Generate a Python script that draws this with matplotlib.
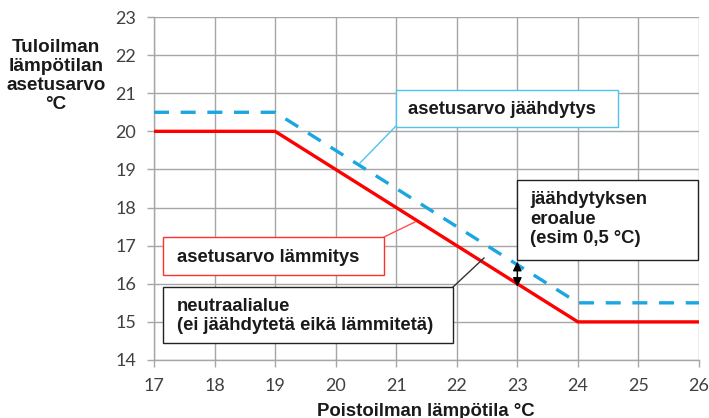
import matplotlib
matplotlib.use("Agg")
import matplotlib.pyplot as plt
from matplotlib.patches import Rectangle

# ---- data ----
x_heat = [17, 19, 24, 26]
y_heat = [20, 20, 15, 15]
x_cool = [17, 19, 24, 26]
y_cool = [20.5, 20.5, 15.5, 15.5]
x_ticks = [17, 18, 19, 20, 21, 22, 23, 24, 25, 26]
y_ticks = [14, 15, 16, 17, 18, 19, 20, 21, 22, 23]
band_x = 23
band_lo = 16
band_hi = 16.5

label_cool = "asetusarvo jäähdytys"
label_heat = "asetusarvo lämmitys"
label_neutral = "neutraalialue\n(ei jäähdytetä eikä lämmitetä)"
label_band = "jäähdytyksen\neroalue\n(esim 0,5 °C)"
ylabel = "Tuloilman\nlämpötilan\nasetusarvo\n°C"
xlabel = "Poistoilman lämpötila °C"

W, H = 709, 418
fig = plt.figure(figsize=(W / 100, H / 100), dpi=100)
ax = fig.add_axes([154 / W, 1 - 360 / H, (699 - 154) / W, (360 - 17) / H])
ax.set_xlim(17, 26)
ax.set_ylim(14, 23)
ax.set_xticks(x_ticks)
ax.set_yticks(y_ticks)
ax.grid(True, color="#A6A6A6", linewidth=1.0)
ax.set_axisbelow(True)
for s in ["top", "right"]:
    ax.spines[s].set_visible(False)
for s in ["left", "bottom"]:
    ax.spines[s].set_color("#A6A6A6")
    ax.spines[s].set_linewidth(1.0)
ax.tick_params(axis="both", colors="#A6A6A6", length=5, width=1.0,
               labelcolor="#404040", labelsize=13)
ax.tick_params(axis="x", pad=8)
ax.tick_params(axis="y", pad=8)
for lab in ax.get_xticklabels() + ax.get_yticklabels():
    lab.set_family("Lato")

ax.plot(x_heat, y_heat, color="#FF0000", linewidth=2.4, solid_capstyle="butt", zorder=3)
ax.plot(x_cool, y_cool, color="#1AA6E0", linewidth=2.4, linestyle=(0, (4.5, 3.5)),
        dash_capstyle="butt", zorder=3)

def px2d(px, py):
    return 17 + (px - 154) / ((699 - 154) / 9), 23 - (py - 17) / ((360 - 17) / 9)

tfont = dict(family="Liberation Sans", weight="bold", fontsize=13.3, color="#1A1A1A")

def box(x0, y0, x1, y1, ec, text, tx, ty, ls=1.2):
    a = px2d(x0, y1)
    b = px2d(x1, y0)
    ax.add_patch(Rectangle(a, b[0] - a[0], b[1] - a[1], facecolor="white",
                           edgecolor=ec, linewidth=1.0, zorder=5, clip_on=False))
    t = px2d(tx, ty)
    ax.text(t[0], t[1], text, ha="left", va="center", linespacing=ls, zorder=6, **tfont)

def leader(p0, p1, color):
    a = px2d(*p0)
    b = px2d(*p1)
    ax.plot([a[0], b[0]], [a[1], b[1]], color=color, linewidth=1.0, zorder=4)

# leaders
leader((396, 126), (360, 163), "#4FC3EC")
leader((384, 237), (415, 222), "#FF5050")
leader((453, 287), (484, 258), "#333333")

# boxes
box(396, 90, 618, 127, "#4FC3EC", label_cool, 408, 109)
box(163, 237, 384, 275, "#FF3030", label_heat, 177, 257)
box(163, 287, 453, 343, "#222222", label_neutral, 177, 316, ls=1.2)
box(517, 180, 698, 260, "#222222", label_band, 530, 219, ls=1.16)

# double arrow for the band
ax.annotate("", xy=(band_x, band_lo - 0.08), xytext=(band_x, band_hi + 0.08),
            arrowprops=dict(arrowstyle="<|-|>,head_length=0.45,head_width=0.22",
                            color="black", lw=1.0,
                            mutation_scale=12, shrinkA=0, shrinkB=0), zorder=7)

fig.text(56 / W, 1 - 76 / H, ylabel, ha="center", va="center", linespacing=1.15,
         family="Liberation Sans", weight="bold", fontsize=13.6, color="#1A1A1A")
fig.text(426 / W, 1 - 411 / H, xlabel, ha="center", va="center",
         family="Liberation Sans", weight="bold", fontsize=13.4, color="#1A1A1A")

fig.savefig("out.png", dpi=100)
